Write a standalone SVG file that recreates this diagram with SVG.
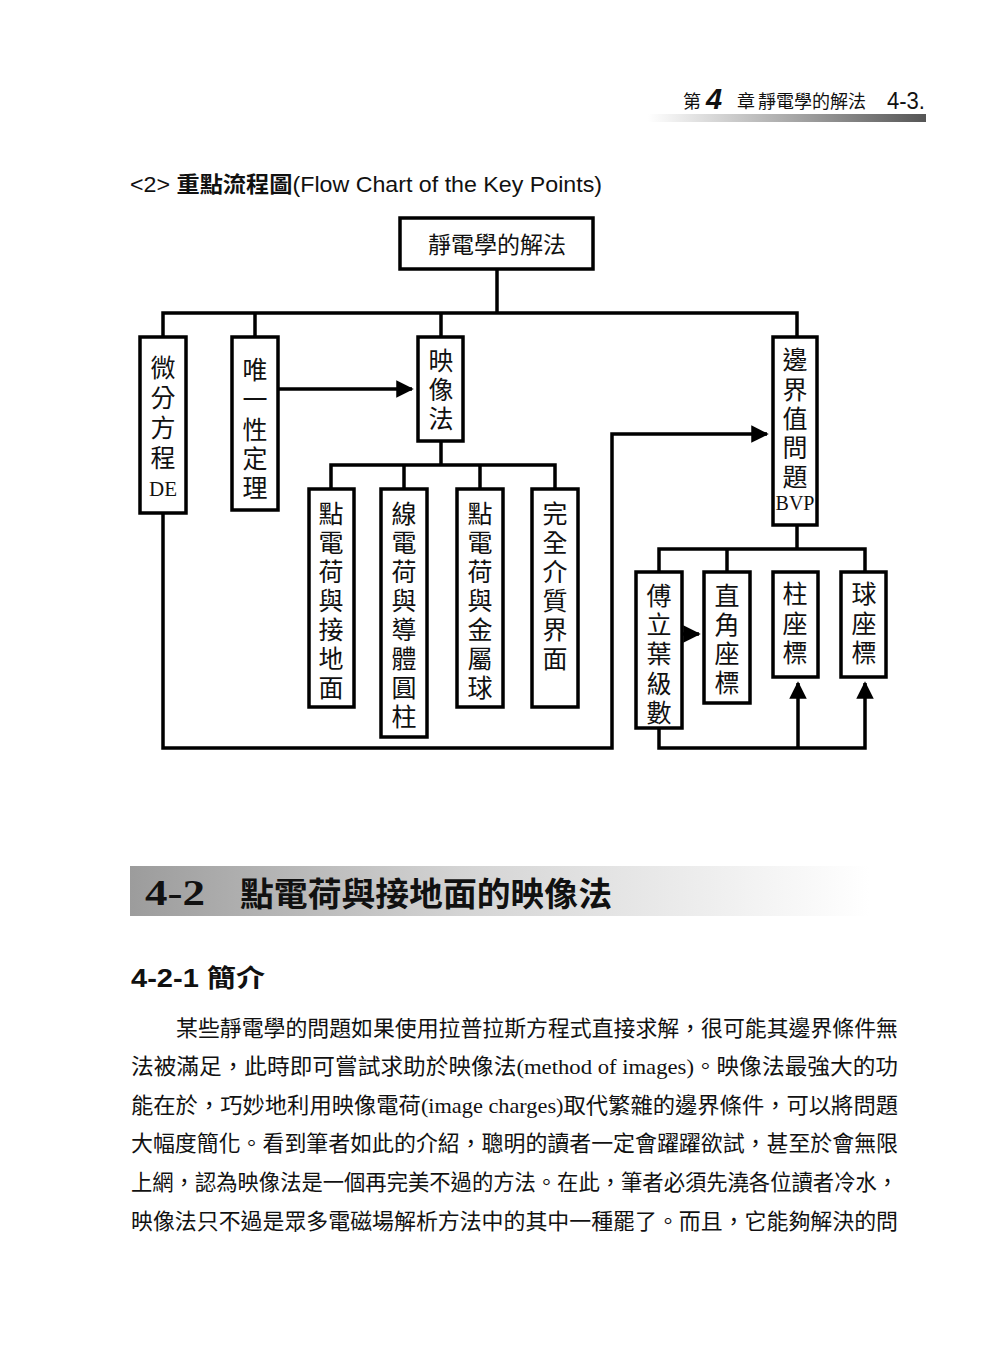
<svg xmlns="http://www.w3.org/2000/svg" width="1000" height="1353" viewBox="0 0 1000 1353">
<defs>
<linearGradient id="hdrbar" x1="0" x2="1" y1="0" y2="0">
<stop offset="0" stop-color="#ffffff"/>
<stop offset="0.6" stop-color="#9a9a9a"/>
<stop offset="1" stop-color="#555555"/>
</linearGradient>
<linearGradient id="secbar" x1="0" x2="1" y1="0" y2="0">
<stop offset="0" stop-color="#9c9c9c"/>
<stop offset="0.45" stop-color="#d4d4d4"/>
<stop offset="1" stop-color="#ffffff"/>
</linearGradient>
<marker id="arr" viewBox="0 0 10 10" refX="9" refY="5" markerWidth="5" markerHeight="5" orient="auto" markerUnits="strokeWidth">
<path d="M0,0 L10,5 L0,10 z" fill="#000"/>
</marker>
</defs>
<style>
.box{fill:#fff;stroke:#000;stroke-width:3.5}
.ln{fill:none;stroke:#000;stroke-width:3.5}
.vt{font-family:"Liberation Serif","Noto Sans CJK TC",serif;font-size:25px;fill:#111;text-anchor:middle}
.body{font-family:"Liberation Serif","Noto Sans CJK TC",serif;font-size:22px;fill:#111}
.sans{font-family:"Liberation Sans","Noto Sans CJK TC",sans-serif;fill:#111}
</style>
<rect width="1000" height="1353" fill="#fff"/>

<!-- page header -->
<g id="header">
<text class="sans" x="683" y="108" font-size="18">第</text>
<text x="706" y="109" font-family="Liberation Sans" font-size="29" font-weight="bold" font-style="italic" fill="#111">4</text>
<text class="sans" x="737" y="108" font-size="18">章</text>
<text class="sans" x="758" y="108" font-size="18" textLength="108" lengthAdjust="spacingAndGlyphs">靜電學的解法</text>
<text class="sans" x="887" y="109" font-size="23" textLength="38" lengthAdjust="spacingAndGlyphs">4-3.</text>
<rect x="648" y="114" width="278" height="8" fill="url(#hdrbar)"/>
</g>

<text class="sans" x="130" y="192" font-size="22" textLength="472" lengthAdjust="spacingAndGlyphs">&lt;2&gt; <tspan font-weight="bold">重點流程圖</tspan>(Flow Chart of the Key Points)</text>

<!-- connectors -->
<g id="connectors">
<polyline class="ln" points="497,269 497,313"/>
<polyline class="ln" points="163,337 163,313 797,313 797,337"/>
<line class="ln" x1="255" y1="313" x2="255" y2="337"/>
<line class="ln" x1="441" y1="313" x2="441" y2="337"/>
<line class="ln" x1="278" y1="389" x2="412" y2="389" marker-end="url(#arr)"/>
<line class="ln" x1="441" y1="441" x2="441" y2="465"/>
<polyline class="ln" points="331,489 331,465 555,465 555,489"/>
<line class="ln" x1="404" y1="465" x2="404" y2="489"/>
<line class="ln" x1="480" y1="465" x2="480" y2="489"/>
<polyline class="ln" points="163,513 163,748 612,748 612,434 767,434" marker-end="url(#arr)"/>
<line class="ln" x1="797" y1="525" x2="797" y2="549"/>
<polyline class="ln" points="659,572 659,549 865,549 865,572"/>
<line class="ln" x1="727" y1="549" x2="727" y2="572"/>
<line class="ln" x1="682" y1="634" x2="699" y2="634" marker-end="url(#arr)"/>
<polyline class="ln" points="659,728 659,748 865,748 865,683" marker-end="url(#arr)"/>
<line class="ln" x1="798" y1="748" x2="798" y2="683" marker-end="url(#arr)"/>
</g>

<!-- nodes -->
<g id="n-root">
<rect class="box" x="400" y="218" width="193" height="51"/>
<text class="sans" x="497" y="253" font-size="23" text-anchor="middle">靜電學的解法</text>
</g>
<g id="n-de">
<rect class="box" x="140" y="337" width="46" height="176"/>
<text class="vt" x="163"><tspan x="163" y="377">微</tspan><tspan x="163" y="407">分</tspan><tspan x="163" y="437">方</tspan><tspan x="163" y="467">程</tspan><tspan x="163" y="496" font-size="21">DE</tspan></text>
</g>
<g id="n-unique">
<rect class="box" x="232" y="337" width="46" height="173"/>
<text class="vt"><tspan x="255" y="379">唯</tspan><tspan x="255" y="409">一</tspan><tspan x="255" y="439">性</tspan><tspan x="255" y="468">定</tspan><tspan x="255" y="497">理</tspan></text>
</g>
<g id="n-image">
<rect class="box" x="418" y="337" width="45" height="104"/>
<text class="vt"><tspan x="441" y="370">映</tspan><tspan x="441" y="399">像</tspan><tspan x="441" y="428">法</tspan></text>
</g>
<g id="n-bvp">
<rect class="box" x="773" y="337" width="44" height="188"/>
<text class="vt"><tspan x="795" y="369">邊</tspan><tspan x="795" y="399">界</tspan><tspan x="795" y="428">值</tspan><tspan x="795" y="457">問</tspan><tspan x="795" y="486">題</tspan><tspan x="795" y="510" font-size="20">BVP</tspan></text>
</g>
<g id="n-c1">
<rect class="box" x="309" y="489" width="45" height="218"/>
<text class="vt"><tspan x="331" y="523">點</tspan><tspan x="331" y="552">電</tspan><tspan x="331" y="581">荷</tspan><tspan x="331" y="610">與</tspan><tspan x="331" y="639">接</tspan><tspan x="331" y="668">地</tspan><tspan x="331" y="697">面</tspan></text>
</g>
<g id="n-c2">
<rect class="box" x="381" y="489" width="46" height="248"/>
<text class="vt"><tspan x="404" y="523">線</tspan><tspan x="404" y="552">電</tspan><tspan x="404" y="581">荷</tspan><tspan x="404" y="610">與</tspan><tspan x="404" y="639">導</tspan><tspan x="404" y="668">體</tspan><tspan x="404" y="697">圓</tspan><tspan x="404" y="726">柱</tspan></text>
</g>
<g id="n-c3">
<rect class="box" x="457" y="489" width="46" height="218"/>
<text class="vt"><tspan x="480" y="523">點</tspan><tspan x="480" y="552">電</tspan><tspan x="480" y="581">荷</tspan><tspan x="480" y="610">與</tspan><tspan x="480" y="639">金</tspan><tspan x="480" y="668">屬</tspan><tspan x="480" y="697">球</tspan></text>
</g>
<g id="n-c4">
<rect class="box" x="532" y="489" width="46" height="218"/>
<text class="vt"><tspan x="555" y="523">完</tspan><tspan x="555" y="552">全</tspan><tspan x="555" y="581">介</tspan><tspan x="555" y="610">質</tspan><tspan x="555" y="639">界</tspan><tspan x="555" y="668">面</tspan></text>
</g>
<g id="n-fourier">
<rect class="box" x="636" y="572" width="46" height="156"/>
<text class="vt"><tspan x="659" y="605">傅</tspan><tspan x="659" y="634">立</tspan><tspan x="659" y="663">葉</tspan><tspan x="659" y="693">級</tspan><tspan x="659" y="722">數</tspan></text>
</g>
<g id="n-rect">
<rect class="box" x="704" y="572" width="46" height="131"/>
<text class="vt"><tspan x="727" y="605">直</tspan><tspan x="727" y="634">角</tspan><tspan x="727" y="663">座</tspan><tspan x="727" y="692">標</tspan></text>
</g>
<g id="n-cyl">
<rect class="box" x="773" y="572" width="45" height="105" stroke-width="4.5"/>
<text class="vt"><tspan x="795" y="603">柱</tspan><tspan x="795" y="633">座</tspan><tspan x="795" y="662">標</tspan></text>
</g>
<g id="n-sph">
<rect class="box" x="841" y="572" width="45" height="105"/>
<text class="vt"><tspan x="864" y="603">球</tspan><tspan x="864" y="633">座</tspan><tspan x="864" y="662">標</tspan></text>
</g>

<!-- section heading -->
<rect x="130" y="866" width="740" height="50" fill="url(#secbar)"/>
<text x="145" y="905" font-family="Liberation Serif" font-size="36" font-weight="bold" fill="#111" textLength="60" lengthAdjust="spacingAndGlyphs">4-2</text>
<text class="sans" x="240" y="906" font-size="33" font-weight="bold" textLength="372" lengthAdjust="spacingAndGlyphs">點電荷與接地面的映像法</text>

<text class="sans" x="131" y="987" font-size="25" font-weight="bold" textLength="134" lengthAdjust="spacingAndGlyphs">4-2-1 簡介</text>

<text class="body" x="176" y="1036" textLength="722" lengthAdjust="spacingAndGlyphs">某些靜電學的問題如果使用拉普拉斯方程式直接求解，很可能其邊界條件無</text>
<text class="body" x="131" y="1074" textLength="767" lengthAdjust="spacingAndGlyphs">法被滿足，此時即可嘗試求助於映像法(method of images)。映像法最強大的功</text>
<text class="body" x="131" y="1113" textLength="767" lengthAdjust="spacingAndGlyphs">能在於，巧妙地利用映像電荷(image charges)取代繁雜的邊界條件，可以將問題</text>
<text class="body" x="131" y="1151" textLength="767" lengthAdjust="spacingAndGlyphs">大幅度簡化。看到筆者如此的介紹，聰明的讀者一定會躍躍欲試，甚至於會無限</text>
<text class="body" x="131" y="1190" textLength="767" lengthAdjust="spacingAndGlyphs">上網，認為映像法是一個再完美不過的方法。在此，筆者必須先澆各位讀者冷水，</text>
<text class="body" x="131" y="1229" textLength="767" lengthAdjust="spacingAndGlyphs">映像法只不過是眾多電磁場解析方法中的其中一種罷了。而且，它能夠解決的問</text>
</svg>
